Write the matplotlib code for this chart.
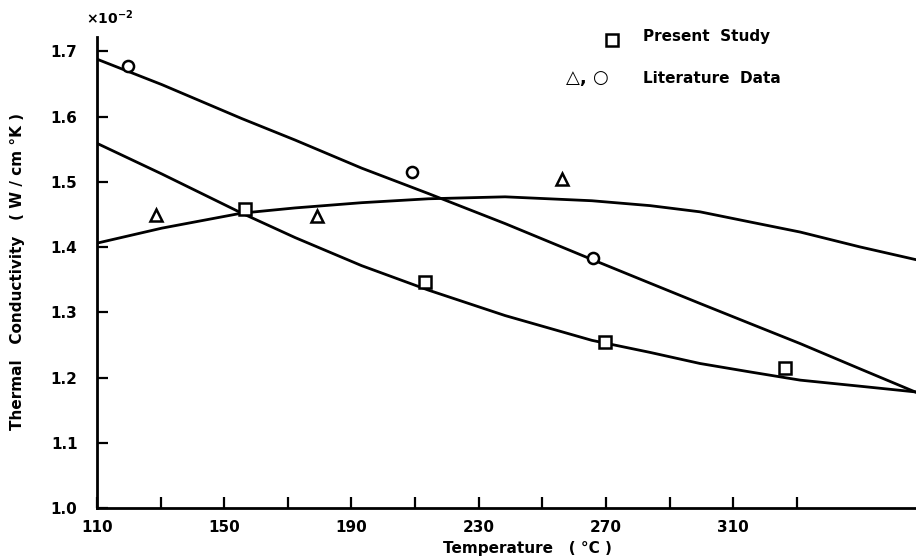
import matplotlib
matplotlib.use('Agg')
import matplotlib.pyplot as plt

# values
temp_curve = [110, 130.4, 155.5, 172.3, 193.2, 214.2, 238.3, 265.6, 283.9, 299.6, 315.3,
              331.1, 349.9, 367.2]
cond_a = [1.688, 1.649, 1.597, 1.564, 1.521, 1.482, 1.436, 1.381, 1.3446, 1.3135, 1.2828,
          1.252, 1.2133, 1.178]
cond_b = [1.559, 1.512, 1.452, 1.4145, 1.3715, 1.334, 1.295, 1.257, 1.2385, 1.2215, 1.2086,
          1.196, 1.1867, 1.178]
cond_c = [1.406, 1.429, 1.452, 1.460, 1.468, 1.474, 1.477, 1.471, 1.4635, 1.454, 1.4385,
          1.423, 1.4002, 1.381]

sq_t = [156.5, 213.1, 269.7, 326.4]
sq_k = [1.458, 1.346, 1.254, 1.214]
ci_t = [119.8, 209.0, 265.9]
ci_k = [1.6775, 1.5144, 1.3825]
tr_t = [128.6, 179.3, 256.1]
tr_k = [1.449, 1.448, 1.504]

xticks_major = [110, 150, 190, 230, 270, 310]
xticks_minor = [130, 170, 210, 250, 290, 330]
yticks = [1.0, 1.1, 1.2, 1.3, 1.4, 1.5, 1.6, 1.7]

plt.rcParams['font.family'] = 'DejaVu Sans'
fig = plt.figure(figsize=(9.16, 5.58), dpi=100)
ax = fig.add_axes([97/916, 50/558, 819/916, 471/558])

for c in (cond_a, cond_b, cond_c):
    ax.plot(temp_curve, c, color='black', lw=2.0, solid_joinstyle='round')

ms = dict(color='black', mfc='white', mew=1.8, ls='none')
ax.plot(sq_t, sq_k, marker='s', ms=8, zorder=3, **ms)
ax.plot(ci_t, ci_k, marker='o', ms=8, zorder=3, **ms)
ax.plot(tr_t, tr_k, marker='^', ms=9, zorder=3, **ms)

ax.set_xlim(110, 367.5)
ax.set_ylim(1.0, 1.722)
ax.spines['top'].set_visible(False)
ax.spines['right'].set_visible(False)
ax.spines['left'].set_linewidth(2)
ax.spines['bottom'].set_linewidth(2)

ax.set_xticks(xticks_major)
ax.set_xticks(xticks_minor, minor=True)
ax.set_yticks(yticks)
ax.set_yticklabels([f'{v:.1f}' for v in yticks])
ax.tick_params(axis='both', which='both', direction='in', length=8, width=1.6)
ax.tick_params(axis='y', pad=14, labelsize=11)
ax.tick_params(axis='x', pad=9, labelsize=11)
for lab in ax.get_xticklabels() + ax.get_yticklabels():
    lab.set_fontweight('bold')

fig.text(18/916, 1 - 272/558, 'Thermal   Conductivity   ( W / cm °K )', rotation=90,
         ha='center', va='center', fontsize=11, fontweight='bold')
fig.text(527/916, 1 - 548/558, 'Temperature   ( °C )', ha='center', va='center',
         fontsize=11, fontweight='bold')
fig.text(86/916, 1 - 18/558, r'$\mathbf{\times 10^{-2}}$', ha='left', va='center', fontsize=10)

# legend drawn by hand, as in the original
ax.plot([612/916], [1 - 40/558], transform=fig.transFigure, marker='s', ms=8,
        clip_on=False, **ms)
fig.text(643/916, 1 - 37/558, 'Present  Study', ha='left', va='center', fontsize=11,
         fontweight='bold')
fig.text(566/916, 1 - 78/558, '△, ○', ha='left', va='center', fontsize=13,
         fontweight='bold')
fig.text(643/916, 1 - 79/558, 'Literature  Data', ha='left', va='center', fontsize=11,
         fontweight='bold')

fig.savefig('out.png', dpi=100)
